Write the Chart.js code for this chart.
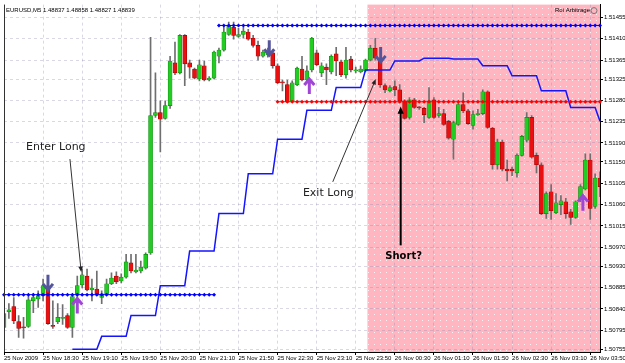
<!DOCTYPE html>
<html>
<head>
<meta charset="utf-8">
<script src="https://cdn.jsdelivr.net/npm/chart.js@4.4.1/dist/chart.umd.min.js"></script>
<style>
  html, body { margin: 0; padding: 0; background: #fff; }
  #wrap { width: 625px; height: 363px; }
</style>
</head>
<body>
<div id="wrap"><canvas id="chartEurusd" width="625" height="363"></canvas></div>
<script>
// EURUSD M5 candles, 25 Nov 17:50 -> 26 Nov 04:00
const opens = [
  1.50801,1.50834,1.50845,1.50813,1.50801,1.50803,1.50857,1.50861,1.50868,1.50882,
  1.50805,1.50813,1.50820,1.50826,1.50801,1.50872,1.50891,1.50909,1.50880,1.50882,
  1.50864,1.50872,1.50893,1.50909,1.50899,1.50907,1.50937,1.50918,1.50920,1.50926,
  1.50958,1.51248,1.51254,1.51242,1.51269,1.51359,1.51338,1.51417,1.51359,1.51346,
  1.51325,1.51353,1.51323,1.51327,1.51373,1.51386,1.51419,1.51434,1.51415,1.51419,
  1.51424,1.51411,1.51396,1.51373,1.51376,1.51380,1.51353,1.51319,1.51313,1.51279,
  1.51313,1.51346,1.51323,1.51344,1.51380,1.51338,1.51350,1.51340,1.51378,1.51361,
  1.51334,1.51367,1.51342,1.51340,1.51342,1.51365,1.51390,1.51363,1.51311,1.51300,
  1.51309,1.51302,1.51279,1.51244,1.51281,1.51265,1.51263,1.51244,1.51281,1.51248,
  1.51252,1.51236,1.51198,1.51229,1.51271,1.51258,1.51227,1.51250,1.51252,1.51298,
  1.51221,1.51144,1.51192,1.51135,1.51135,1.51127,1.51164,1.51196,1.51244,1.51164,
  1.51144,1.51041,1.51087,1.51043,1.51060,1.51066,1.51045,1.51033,1.51070,1.51093,
  1.51154,1.51056,1.51116
];
const highs = [
  1.50841,1.50851,1.50864,1.50826,1.50822,1.50868,1.50872,1.50878,1.50903,1.50889,
  1.50857,1.50851,1.50849,1.50830,1.50870,1.50909,1.50924,1.50924,1.50903,1.50920,
  1.50878,1.50903,1.50916,1.50918,1.50914,1.50955,1.50955,1.50955,1.50941,1.50958,
  1.51413,1.51338,1.51279,1.51279,1.51373,1.51403,1.51419,1.51419,1.51365,1.51348,
  1.51365,1.51363,1.51330,1.51384,1.51390,1.51438,1.51445,1.51445,1.51432,1.51434,
  1.51430,1.51417,1.51405,1.51386,1.51390,1.51386,1.51357,1.51323,1.51323,1.51321,
  1.51350,1.51373,1.51353,1.51413,1.51386,1.51359,1.51357,1.51376,1.51392,1.51365,
  1.51392,1.51373,1.51350,1.51353,1.51367,1.51396,1.51411,1.51367,1.51315,1.51311,
  1.51321,1.51313,1.51281,1.51286,1.51284,1.51267,1.51265,1.51307,1.51286,1.51265,
  1.51261,1.51238,1.51236,1.51275,1.51296,1.51261,1.51258,1.51261,1.51302,1.51300,
  1.51223,1.51198,1.51196,1.51154,1.51139,1.51167,1.51206,1.51254,1.51248,1.51169,
  1.51148,1.51087,1.51102,1.51083,1.51079,1.51073,1.51050,1.51068,1.51102,1.51167,
  1.51167,1.51125,1.51129
];
const lows = [
  1.50774,1.50820,1.50809,1.50780,1.50778,1.50801,1.50832,1.50843,1.50857,1.50807,
  1.50799,1.50809,1.50807,1.50799,1.50780,1.50861,1.50884,1.50878,1.50857,1.50868,
  1.50851,1.50870,1.50891,1.50893,1.50895,1.50905,1.50916,1.50916,1.50916,1.50924,
  1.50955,1.51244,1.51171,1.51240,1.51263,1.51334,1.51336,1.51311,1.51327,1.51325,
  1.51321,1.51321,1.51321,1.51325,1.51359,1.51384,1.51417,1.51409,1.51413,1.51411,
  1.51407,1.51392,1.51365,1.51371,1.51371,1.51348,1.51315,1.51300,1.51275,1.51277,
  1.51311,1.51321,1.51319,1.51340,1.51353,1.51330,1.51313,1.51336,1.51332,1.51330,
  1.51327,1.51340,1.51338,1.51338,1.51340,1.51363,1.51365,1.51307,1.51296,1.51298,
  1.51290,1.51275,1.51240,1.51240,1.51263,1.51261,1.51233,1.51242,1.51242,1.51244,
  1.51227,1.51198,1.51156,1.51227,1.51254,1.51229,1.51219,1.51248,1.51250,1.51221,
  1.51135,1.51135,1.51131,1.51110,1.51121,1.51118,1.51162,1.51192,1.51158,1.51127,
  1.51039,1.51031,1.51029,1.51041,1.51039,1.51031,1.51018,1.51031,1.51066,1.51091,
  1.51029,1.51052,1.51077
];
const closes = [
  1.50830,1.50838,1.50815,1.50799,1.50800,1.50859,1.50864,1.50868,1.50889,1.50809,
  1.50803,1.50822,1.50821,1.50801,1.50866,1.50889,1.50912,1.50880,1.50884,1.50872,
  1.50872,1.50893,1.50905,1.50897,1.50907,1.50939,1.50920,1.50922,1.50928,1.50955,
  1.51248,1.51254,1.51240,1.51269,1.51363,1.51338,1.51417,1.51357,1.51350,1.51327,
  1.51355,1.51323,1.51327,1.51382,1.51386,1.51424,1.51436,1.51417,1.51419,1.51426,
  1.51409,1.51396,1.51373,1.51382,1.51384,1.51353,1.51317,1.51317,1.51277,1.51317,
  1.51348,1.51323,1.51342,1.51411,1.51355,1.51353,1.51344,1.51373,1.51363,1.51334,
  1.51365,1.51344,1.51344,1.51346,1.51365,1.51390,1.51369,1.51313,1.51302,1.51307,
  1.51302,1.51279,1.51242,1.51281,1.51265,1.51264,1.51250,1.51279,1.51244,1.51252,
  1.51229,1.51200,1.51233,1.51271,1.51258,1.51231,1.51250,1.51252,1.51298,1.51223,
  1.51144,1.51192,1.51135,1.51131,1.51131,1.51164,1.51204,1.51244,1.51160,1.51144,
  1.51041,1.51083,1.51047,1.51064,1.51068,1.51041,1.51033,1.51066,1.51098,1.51154,
  1.51052,1.51116,1.51098
];

// M30 trailing stop, one value per M5 bar
const trailStop = [
  null,null,null,null,null,null,null,null,null,null,null,null,null,null,
  1.50755,1.50755,1.50755,1.50755,1.50755,1.50755,
  1.50782,1.50782,1.50782,1.50782,1.50782,1.50782,
  1.50826,1.50826,1.50826,1.50826,1.50826,1.50826,
  1.50889,1.50889,1.50889,1.50889,1.50889,1.50889,
  1.50962,1.50962,1.50962,1.50962,1.50962,1.50962,
  1.51041,1.51041,1.51041,1.51041,1.51041,1.51041,
  1.51125,1.51125,1.51125,1.51125,1.51125,1.51125,
  1.51198,1.51198,1.51198,1.51198,1.51198,1.51198,
  1.51259,1.51259,1.51259,1.51259,1.51259,1.51259,
  1.51307,1.51307,1.51307,1.51307,1.51307,1.51307,
  1.51344,1.51344,1.51344,1.51344,1.51344,1.51344,
  1.51363,1.51363,1.51363,1.51363,1.51363,1.51363,
  1.51369,1.51369,1.51369,1.51369,1.51369,1.51369,
  1.51367,1.51367,1.51367,1.51367,1.51367,1.51367,
  1.51353,1.51353,1.51353,1.51353,1.51353,1.51353,
  1.51332,1.51332,1.51332,1.51332,1.51332,1.51332,
  1.51300,1.51300,1.51300,1.51300,1.51300,1.51300,
  1.51265,1.51265,1.51265,1.51265,1.51265,1.51265,
  1.51236
];

// arbitrage levels (first bar, last bar, price)
const levelLow   = [0, 43, 1.50870];
const levelHigh  = [44, 122, 1.51438];
const levelShort = [56, 122, 1.51277];

// signal arrows: [bar, price of tip]
const buySignals  = [[15, 1.50864], [62.5, 1.51327], [118.5, 1.51081]];
const sellSignals = [[9, 1.50878], [54.3, 1.51373], [77.1, 1.51359]];

const shortZoneFrom = 74.4;

const yTickLabels = ['1.51455','1.51410','1.51365','1.51325','1.51280','1.51235','1.51190','1.51150',
  '1.51105','1.51060','1.51015','1.50970','1.50930','1.50885','1.50840','1.50795','1.50755'];
const xTickLabels = ['25 Nov 2009','25 Nov 18:30','25 Nov 19:10','25 Nov 19:50','25 Nov 20:30',
  '25 Nov 21:10','25 Nov 21:50','25 Nov 22:30','25 Nov 23:10','25 Nov 23:50','26 Nov 00:30',
  '26 Nov 01:10','26 Nov 01:50','26 Nov 02:30','26 Nov 03:10','26 Nov 03:50'];

const barTimes = opens.map((_, i) => {
  const m = (17 * 60 + 50 + 5 * i) % 1440;
  return String(Math.floor(m / 60)).padStart(2, '0') + ':' + String(m % 60).padStart(2, '0');
});

function levelData(lv) {
  return opens.map((_, i) => (i >= lv[0] && i <= lv[1]) ? lv[2] : null);
}

const UP = '#22cc22', DOWN = '#e81010';
const gridCol = 'rgba(140,135,175,0.32)';
const axisFont = { family: 'Liberation Sans, Arial, sans-serif', size: 6 };

function dotPattern(ctx) {
  const c = document.createElement('canvas');
  c.width = 6; c.height = 6;
  const g = c.getContext('2d');
  g.fillStyle = 'rgba(255,255,255,0.8)';
  g.fillRect(2, 2, 1, 1);
  return ctx.createPattern(c, 'repeat');
}

function signalArrow(ctx, x, y, dir, color) {
  // dir 1: pointing down, tip at y; dir -1: pointing up
  ctx.strokeStyle = color;
  ctx.lineWidth = 3;
  ctx.beginPath();
  ctx.moveTo(x, y - dir * 16);
  ctx.lineTo(x, y - dir * 1);
  ctx.moveTo(x - 5, y - dir * 7);
  ctx.lineTo(x, y - dir * 1);
  ctx.lineTo(x + 5, y - dir * 7);
  ctx.stroke();
}

function noteArrow(ctx, x1, y1, x2, y2, width, head) {
  const a = Math.atan2(y2 - y1, x2 - x1);
  ctx.lineWidth = width;
  ctx.beginPath();
  ctx.moveTo(x1, y1);
  ctx.lineTo(x2 - Math.cos(a) * head * 0.8, y2 - Math.sin(a) * head * 0.8);
  ctx.stroke();
  ctx.beginPath();
  ctx.moveTo(x2, y2);
  ctx.lineTo(x2 - head * Math.cos(a - 0.4), y2 - head * Math.sin(a - 0.4));
  ctx.lineTo(x2 - head * Math.cos(a + 0.4), y2 - head * Math.sin(a + 0.4));
  ctx.closePath();
  ctx.fill();
}

const overlay = {
  id: 'overlay',
  beforeDraw(chart) {
    const { ctx, chartArea: a, scales: { x } } = chart;
    const left = x.getPixelForValue(shortZoneFrom);
    ctx.save();
    ctx.fillStyle = '#ffb6c1';
    ctx.fillRect(left, a.top, a.right - left, a.bottom - a.top);
    ctx.fillStyle = dotPattern(ctx);
    ctx.fillRect(left, a.top, a.right - left, a.bottom - a.top);
    ctx.restore();
  },
  afterDatasetsDraw(chart) {
    const { ctx, chartArea: a, scales: { x, y } } = chart;
    ctx.save();
    sellSignals.forEach(s => signalArrow(ctx, x.getPixelForValue(s[0]), y.getPixelForValue(s[1]), 1, '#55559c'));
    buySignals.forEach(s => signalArrow(ctx, x.getPixelForValue(s[0]), y.getPixelForValue(s[1]), -1, '#a045d6'));

    // notes
    ctx.fillStyle = '#222';
    ctx.strokeStyle = '#333';
    ctx.textAlign = 'center';
    ctx.textBaseline = 'middle';
    ctx.font = '11px "DejaVu Sans", sans-serif';
    ctx.fillText('Enter Long', x.getPixelForValue(10.6), y.getPixelForValue(1.51181));
    noteArrow(ctx, x.getPixelForValue(13.5), y.getPixelForValue(1.51156),
      x.getPixelForValue(15.8), y.getPixelForValue(1.50918), 1, 6);
    ctx.fillText('Exit Long', x.getPixelForValue(66.4), y.getPixelForValue(1.51085));
    noteArrow(ctx, x.getPixelForValue(67.3), y.getPixelForValue(1.51108),
      x.getPixelForValue(76.1), y.getPixelForValue(1.51325), 1, 6);
    ctx.fillStyle = '#000';
    ctx.strokeStyle = '#000';
    ctx.font = 'bold 10px "DejaVu Sans", sans-serif';
    ctx.fillText('Short?', x.getPixelForValue(81.8), y.getPixelForValue(1.50951));
    noteArrow(ctx, x.getPixelForValue(81.2), y.getPixelForValue(1.50974),
      x.getPixelForValue(81.2), y.getPixelForValue(1.51267), 2, 8);

    // window captions
    ctx.font = '6px "Liberation Sans", Arial, sans-serif';
    ctx.textAlign = 'left';
    ctx.fillStyle = '#000';
    ctx.fillText('EURUSD,M5 1.48837 1.48858 1.48827 1.48839', a.left + 2, a.top + 6);
    ctx.textAlign = 'right';
    ctx.fillText('Roi Arbitrage', a.right - 10, a.top + 6);
    ctx.strokeStyle = '#777';
    ctx.lineWidth = 1;
    ctx.beginPath();
    ctx.arc(a.right - 6, a.top + 6, 3, 0, Math.PI * 2);
    ctx.stroke();

    // left frame
    ctx.strokeStyle = '#333';
    ctx.beginPath();
    ctx.moveTo(a.left + 0.5, a.top);
    ctx.lineTo(a.left + 0.5, a.bottom);
    ctx.stroke();
    ctx.restore();
  }
};

new Chart(document.getElementById('chartEurusd'), {
  type: 'bar',
  data: {
    labels: barTimes,
    datasets: [
      {
        type: 'line', data: levelData(levelLow), borderColor: '#0000ff', borderWidth: 1,
        pointStyle: 'rectRot', pointRadius: 2, pointBackgroundColor: '#0000ff', pointBorderWidth: 0, order: 0
      },
      {
        type: 'line', data: levelData(levelHigh), borderColor: '#0000ff', borderWidth: 1,
        pointStyle: 'rectRot', pointRadius: 2, pointBackgroundColor: '#0000ff', pointBorderWidth: 0, order: 0
      },
      {
        type: 'line', data: levelData(levelShort), borderColor: '#ff0000', borderWidth: 1,
        pointStyle: 'rectRot', pointRadius: 2, pointBackgroundColor: '#ff0000', pointBorderWidth: 0, order: 0
      },
      {
        type: 'line', data: trailStop, borderColor: '#1414ff', borderWidth: 1.5,
        pointRadius: 0, order: 1
      },
      {
        label: 'body', data: opens.map((o, i) => [o, closes[i]]),
        backgroundColor: opens.map((o, i) => closes[i] >= o ? UP : DOWN),
        borderColor: opens.map((o, i) => closes[i] >= o ? '#138a13' : '#a80000'),
        borderWidth: 0.6, borderSkipped: false,
        barThickness: 4, minBarLength: 1, grouped: false, order: 2
      },
      {
        label: 'wick', data: lows.map((l, i) => [l, highs[i]]),
        backgroundColor: '#6f6f6f', barThickness: 1, grouped: false, order: 3
      }
    ]
  },
  options: {
    responsive: false,
    animation: false,
    devicePixelRatio: 1,
    layout: { padding: { left: 2, top: 1, right: 0, bottom: 0 } },
    plugins: { legend: { display: false }, tooltip: { enabled: false } },
    scales: {
      x: {
        offset: false,
        afterFit: s => { s.height = 11; },
        grid: {
          offset: false,
          color: c => c.index % 8 === 0 ? gridCol : 'rgba(0,0,0,0)',
          tickColor: c => c.index % 8 === 0 ? '#000' : 'rgba(0,0,0,0)',
          tickLength: 3
        },
        border: { display: true, color: '#000', width: 1, dash: [3, 3] },
        ticks: {
          autoSkip: false, maxRotation: 0, minRotation: 0, align: 'start', padding: 0,
          color: '#000', font: axisFont,
          callback: (v, i) => i % 8 === 0 ? xTickLabels[i / 8] : ''
        }
      },
      y: {
        position: 'right',
        min: 1.50749, max: 1.51482,
        afterFit: s => { s.width = 25; },
        afterBuildTicks: s => { s.ticks = yTickLabels.map(t => ({ value: parseFloat(t) })); },
        grid: { color: gridCol, tickColor: '#000', tickLength: 3 },
        border: { display: true, color: '#000', width: 1, dash: [3, 3] },
        ticks: {
          padding: 1, color: '#000', font: axisFont,
          callback: (v, i) => yTickLabels[i]
        }
      }
    }
  },
  plugins: [overlay]
});
</script>
</body>
</html>
